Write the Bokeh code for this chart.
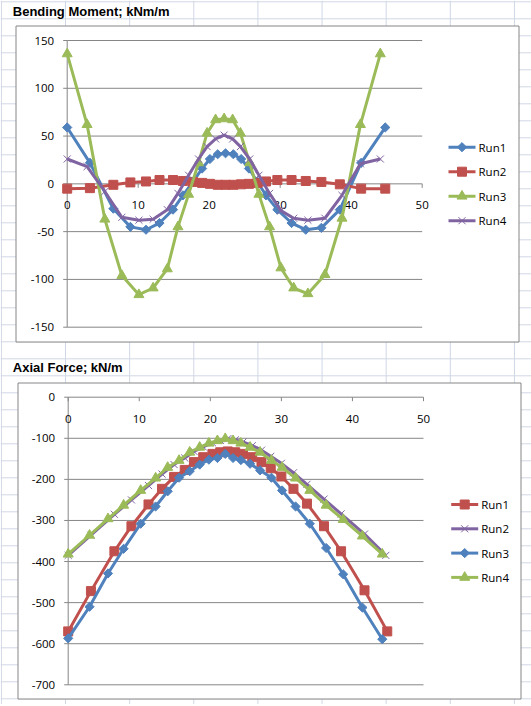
import math
from bokeh.plotting import figure
from bokeh.models import Range1d
from bokeh.embed import file_html
from bokeh.resources import INLINE
from bokeh.core.properties import value

# ---------------- Chart 1: Bending Moment; kNm/m ----------------
bm_title = "Bending Moment; kNm/m"
bm_series = ["Run1", "Run2", "Run3", "Run4"]
bm_run1_x = [0, 3.2, 6.5, 8.9, 11.1, 13.0, 14.9, 16.3, 17.7, 19.0, 20.1, 21.2, 22.3,
             23.4, 24.5, 25.6, 26.8, 28.0, 29.6, 31.6, 33.6, 35.8, 38.4, 41.4, 44.8]
bm_run1_y = [59, 22, -26, -45, -48, -41, -27, -12, 2, 16, 26, 31, 32,
             31, 26, 16, 2, -12, -27, -41, -48, -46, -27, 22, 59]
bm_run2_x = bm_run1_x
bm_run2_y = [-5, -4.5, -1, 1.5, 2.5, 4, 4, 3, 2, 1, 0, -1, -1,
             -1, -0.5, 0, 1, 2.5, 4, 4, 3, 2, -0.5, -5, -5]
bm_run3_x = [0, 2.8, 5.3, 7.7, 10.1, 12.1, 14.1, 15.6, 17.1, 18.5, 19.7, 20.9, 22.1,
             23.3, 24.4, 25.7, 27.0, 28.5, 30.1, 31.9, 33.9, 36.3, 38.7, 41.3, 44.1]
bm_run3_y = [136, 62, -37, -96, -116, -109, -89, -45, -11, 22, 53, 67, 68,
             67, 53, 22, -11, -45, -88, -109, -115, -95, -36, 62, 136]
bm_run4_x = bm_run3_x
bm_run4_y = [26, 18, -8, -35, -38, -37, -27, -10, 9, 26, 39, 47, 51,
             47, 39, 26, 9, -10, -28, -36, -38, -36, -12, 21, 26]
bm_yticks = [-150, -100, -50, 0, 50, 100, 150]
bm_xticks = [0, 10, 20, 30, 40, 50]

# ---------------- Chart 2: Axial Force; kN/m ----------------
af_title = "Axial Force; kN/m"
af_series = ["Run1", "Run2", "Run3", "Run4"]
af_run1_x = [0, 3.2, 6.5, 8.9, 11.3, 13.2, 14.9, 16.4, 17.7, 19.0, 20.3, 21.4, 22.45,
             23.5, 24.6, 25.9, 27.2, 28.5, 30.0, 31.7, 33.6, 36.0, 38.4, 41.7, 44.9]
af_run1_y = [-570, -472, -375, -314, -261, -223, -194, -177, -158, -146, -138, -134, -132,
             -134, -138, -146, -158, -173, -193, -223, -259, -314, -375, -470, -570]
af_run2_x = [0, 3.2, 6.5, 8.9, 11.3, 13.2, 14.9, 16.4, 17.7, 19.0, 20.3, 21.4, 22.45,
             23.5, 24.6, 25.9, 27.2, 28.5, 30.0, 31.7, 33.6, 36.0, 38.4, 41.7, 44.7]
af_run2_y = [-385, -336, -285, -250, -215, -187, -164, -148, -132, -121, -111, -105, -101,
             -104, -109, -118, -129, -144, -161, -184, -212, -248, -284, -333, -385]
af_run3_x = [0, 3.0, 5.6, 7.8, 10.2, 12.3, 14.0, 15.6, 17.1, 18.5, 19.8, 21.0, 22.1,
             23.2, 24.3, 25.6, 27.0, 28.6, 30.1, 32.0, 34.0, 36.3, 38.7, 41.4, 44.2]
af_run3_y = [-587, -510, -429, -369, -308, -266, -229, -196, -180, -164, -152, -148, -138,
             -148, -153, -162, -178, -196, -227, -266, -308, -367, -431, -512, -589]
af_run4_x = af_run3_x
af_run4_y = [-382, -336, -296, -263, -227, -197, -171, -154, -134, -122, -112, -106, -101,
             -106, -112, -122, -134, -154, -171, -197, -227, -263, -298, -338, -382]
af_yticks = [-700, -600, -500, -400, -300, -200, -100, 0]
af_xticks = [0, 10, 20, 30, 40, 50]

# ---------------- styles / layout (page pixels) ----------------
BLUE, RED, GREEN, PURPLE = "#4F81BD", "#C0504D", "#9BBB59", "#8064A2"
AXIS = "#868686"
CELL = "#D0D7E5"
FONT = "Open Sans"
TITLE_FONT = "Liberation Sans"
PAGE_L, PAGE_R, PAGE_T, PAGE_B = 0, 531, 0, 704

CHART1 = dict(name="bm", x_lo=0, x_hi=50, y_lo=-150, y_hi=150,
              px_x0=66.7, px_x1=421.7, px_ytop=40.0, px_ybot=326.7,
              box=(15.5, 518.5, 25.5, 341.5), title_xy=(12.3, 10.8),
              label_dy=21.5, ylabel_gap=13, legend_x=448.0, legend_cy=146.7, legend_pitch=24.5)
CHART2 = dict(name="af", x_lo=0, x_hi=50, y_lo=-700, y_hi=0,
              px_x0=67.7, px_x1=423.0, px_ytop=396.7, px_ybot=684.3,
              box=(17.5, 520.5, 382.5, 698.5), title_xy=(12.3, 367.2),
              label_dy=21.5, ylabel_gap=13, legend_x=450.7, legend_cy=504.0, legend_pitch=24.3)

p = figure(width=PAGE_R - PAGE_L, height=PAGE_B - PAGE_T,
           x_range=Range1d(PAGE_L, PAGE_R), y_range=Range1d(PAGE_B, PAGE_T),
           x_axis_type=None, y_axis_type=None, min_border=0,
           min_border_left=0, min_border_right=0, min_border_top=0, min_border_bottom=0,
           output_backend="svg", toolbar_location=None)
p.outline_line_color = None
p.background_fill_color = "white"
p.border_fill_color = "white"

# spreadsheet cell grid behind the charts
col_x = [0.9 + 64.13 * k for k in range(9)]
row_y = [1.3 + 17.0 * k for k in range(42)]
p.segment(x0=col_x, y0=[PAGE_T] * len(col_x), x1=col_x, y1=[PAGE_B] * len(col_x),
          line_color=CELL, line_width=1)
p.segment(x0=[PAGE_L] * len(row_y), y0=row_y, x1=[PAGE_R] * len(row_y), y1=row_y,
          line_color=CELL, line_width=1)


def draw_markers(xs, ys, color, marker, **kw):
    if marker == "diamond":
        p.scatter(xs, ys, marker="square", size=6.5, angle=math.pi / 4,
                  fill_color=color, line_color=color, **kw)
    elif marker == "x":
        p.scatter(xs, ys, marker="x", size=10, line_color=color, line_width=1, **kw)
    elif marker == "square":
        p.scatter(xs, ys, marker="square", size=9, fill_color=color, line_color=color, **kw)
    else:
        p.scatter(xs, ys, marker="triangle", size=10, fill_color=color, line_color=color, **kw)


def build(c, title, names, series, yticks, xticks):
    kx = (c["x_hi"] - c["x_lo"]) / (c["px_x1"] - c["px_x0"])
    ky = (c["y_hi"] - c["y_lo"]) / (c["px_ybot"] - c["px_ytop"])
    xr, yr = c["name"] + "_x", c["name"] + "_y"
    p.extra_x_ranges[xr] = Range1d(c["x_lo"] - (c["px_x0"] - PAGE_L) * kx,
                                   c["x_hi"] + (PAGE_R - c["px_x1"]) * kx)
    p.extra_y_ranges[yr] = Range1d(c["y_lo"] - (PAGE_B - c["px_ybot"]) * ky,
                                   c["y_hi"] + (c["px_ytop"] - PAGE_T) * ky)
    zero_px = c["px_ytop"] + (c["y_hi"] - 0) / ky

    # chart area box and title
    l, r, t, b = c["box"]
    p.quad(left=[l], right=[r], top=[t], bottom=[b], fill_color="white",
           line_color=AXIS, line_width=1)
    p.text(x=[c["title_xy"][0]], y=[c["title_xy"][1]], text=[title],
           text_font=value(TITLE_FONT), text_font_style="bold", text_font_size="13px",
           text_color="black", text_align="left", text_baseline="middle")

    n_y, n_x = len(yticks), len(xticks)
    # horizontal gridlines
    p.segment(x0=[c["x_lo"]] * n_y, y0=yticks, x1=[c["x_hi"]] * n_y, y1=yticks,
              line_color=AXIS, line_width=1, x_range_name=xr, y_range_name=yr)
    # vertical value axis with outside ticks and labels
    p.segment(x0=[0], y0=[c["y_lo"]], x1=[0], y1=[c["y_hi"]],
              line_color=AXIS, line_width=1, x_range_name=xr, y_range_name=yr)
    p.segment(x0=[c["px_x0"] - 4] * n_y, y0=yticks, x1=[c["px_x0"]] * n_y, y1=yticks,
              line_color=AXIS, line_width=1, y_range_name=yr)
    p.text(x=[c["px_x0"] - c["ylabel_gap"]] * n_y, y=yticks, text=[str(v) for v in yticks],
           text_font=value(FONT), text_font_size="11.5px", text_color="black",
           text_align="right", text_baseline="middle", y_range_name=yr)
    # horizontal category axis crossing at value 0
    p.segment(x0=xticks, y0=[zero_px] * n_x, x1=xticks, y1=[zero_px + 4] * n_x,
              line_color=AXIS, line_width=1, x_range_name=xr)
    p.text(x=xticks, y=[zero_px + c["label_dy"]] * n_x, text=[str(v) for v in xticks],
           text_font=value(FONT), text_font_size="11.5px", text_color="black",
           text_align="center", text_baseline="middle", x_range_name=xr)

    # series
    for (xs, ys, color, marker) in series:
        p.line(xs, ys, line_color=color, line_width=3, line_join="round",
               x_range_name=xr, y_range_name=yr)
        draw_markers(xs, ys, color, marker, x_range_name=xr, y_range_name=yr)

    # legend (line + marker + label per series)
    n = len(names)
    cys = [c["legend_cy"] + i * c["legend_pitch"] for i in range(n)]
    gx0, gx1 = c["legend_x"], c["legend_x"] + 27
    for cy, (xs, ys, color, marker) in zip(cys, series):
        p.segment(x0=[gx0], y0=[cy], x1=[gx1], y1=[cy], line_color=color, line_width=3)
        draw_markers([(gx0 + gx1) / 2], [cy], color, marker)
    p.text(x=[gx1 + 3] * n, y=cys, text=names, text_font=value(FONT),
           text_font_size="11.5px", text_color="black", text_align="left",
           text_baseline="middle")


build(CHART1, bm_title, bm_series,
      [(bm_run1_x, bm_run1_y, BLUE, "diamond"),
       (bm_run2_x, bm_run2_y, RED, "square"),
       (bm_run3_x, bm_run3_y, GREEN, "triangle"),
       (bm_run4_x, bm_run4_y, PURPLE, "x")],
      bm_yticks, bm_xticks)

build(CHART2, af_title, af_series,
      [(af_run1_x, af_run1_y, RED, "square"),
       (af_run2_x, af_run2_y, PURPLE, "x"),
       (af_run3_x, af_run3_y, BLUE, "diamond"),
       (af_run4_x, af_run4_y, GREEN, "triangle")],
      af_yticks, af_xticks)

open("out.html", "w").write(file_html(p, INLINE))
